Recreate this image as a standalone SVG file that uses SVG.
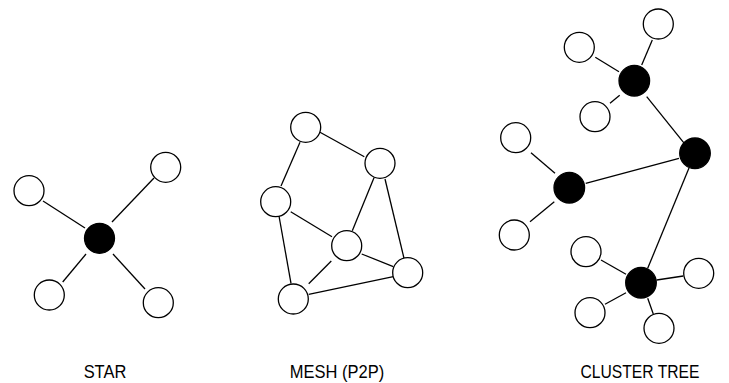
<svg xmlns="http://www.w3.org/2000/svg" width="729" height="383" viewBox="0 0 729 383">
  <style>
    .node circle { stroke: #000; stroke-width: 1.3; }
    .leaf circle { fill: #fff; }
    .hub circle { fill: #000; }
    .edges line { stroke: #000; stroke-width: 1.3; stroke-linecap: butt; }
    .label { font-family: "Liberation Sans", Arial, sans-serif; font-size: 16.5px; fill: #000; text-anchor: middle; }
  </style>
  <rect width="729" height="383" fill="#fff"/>

  <!-- Star topology -->
  <g class="edges" id="star-edges">
    <line x1="43" y1="201" x2="85" y2="228"/>
    <line x1="154" y1="178" x2="112" y2="222"/>
    <line x1="86" y1="254" x2="62.7" y2="282"/>
    <line x1="113" y1="254" x2="145" y2="289"/>
  </g>
  <g id="star-hub" class="node hub"><circle cx="99.5" cy="238.3" r="15"/></g>
  <g id="star-n1" class="node leaf"><circle cx="29" cy="190.7" r="15"/></g>
  <g id="star-n2" class="node leaf"><circle cx="165.7" cy="167.3" r="15"/></g>
  <g id="star-n3" class="node leaf"><circle cx="49.3" cy="295" r="15"/></g>
  <g id="star-n4" class="node leaf"><circle cx="158.3" cy="302.7" r="15"/></g>

  <!-- Mesh topology -->
  <g class="edges" id="mesh-edges">
    <line x1="320" y1="132.3" x2="364.3" y2="156.7"/>
    <line x1="300" y1="142.3" x2="281" y2="186"/>
    <line x1="290.7" y1="211.7" x2="332" y2="236.7"/>
    <line x1="279" y1="216" x2="291" y2="283.3"/>
    <line x1="374" y1="177.7" x2="352.3" y2="230.7"/>
    <line x1="385" y1="179" x2="404" y2="258.3"/>
    <line x1="361.7" y1="254" x2="393.3" y2="266.7"/>
    <line x1="331.3" y1="261" x2="308.7" y2="283.7"/>
    <line x1="308.7" y1="294.3" x2="393.3" y2="276.7"/>
  </g>
  <g id="mesh-a" class="node leaf"><circle cx="305.7" cy="127.3" r="15"/></g>
  <g id="mesh-b" class="node leaf"><circle cx="380" cy="163.3" r="15"/></g>
  <g id="mesh-c" class="node leaf"><circle cx="275.7" cy="201.7" r="15"/></g>
  <g id="mesh-d" class="node leaf"><circle cx="346.7" cy="245.7" r="15"/></g>
  <g id="mesh-e" class="node leaf"><circle cx="407.7" cy="272.7" r="15"/></g>
  <g id="mesh-f" class="node leaf"><circle cx="293.3" cy="299" r="15"/></g>

  <!-- Cluster tree topology -->
  <g class="edges" id="tree-edges">
    <line x1="641.7" y1="65" x2="652.3" y2="40"/>
    <line x1="619" y1="71.7" x2="595.3" y2="57.3"/>
    <line x1="619.7" y1="95.3" x2="610" y2="103.3"/>
    <line x1="646.7" y1="96.7" x2="684.3" y2="143.3"/>
    <line x1="679" y1="158.3" x2="585.7" y2="183.3"/>
    <line x1="531" y1="152.7" x2="555" y2="173.3"/>
    <line x1="554.3" y1="201.7" x2="530" y2="221.7"/>
    <line x1="689" y1="168" x2="647.7" y2="268.3"/>
    <line x1="601" y1="260" x2="626" y2="274.3"/>
    <line x1="656.7" y1="280" x2="683.3" y2="276"/>
    <line x1="626" y1="292.7" x2="605" y2="304.3"/>
    <line x1="647.7" y1="298.3" x2="653.3" y2="314"/>
  </g>
  <g id="tree-hub1" class="node hub"><circle cx="634.3" cy="80.7" r="15.3"/></g>
  <g id="tree-hub2" class="node hub"><circle cx="695" cy="153.3" r="15.3"/></g>
  <g id="tree-hub3" class="node hub"><circle cx="569.3" cy="187.7" r="15.3"/></g>
  <g id="tree-hub4" class="node hub"><circle cx="641" cy="282.7" r="15.3"/></g>
  <g id="tree-n1" class="node leaf"><circle cx="658.3" cy="24" r="15"/></g>
  <g id="tree-n2" class="node leaf"><circle cx="579.3" cy="47.3" r="15"/></g>
  <g id="tree-n3" class="node leaf"><circle cx="595" cy="116.7" r="15"/></g>
  <g id="tree-n4" class="node leaf"><circle cx="515.7" cy="137.7" r="15"/></g>
  <g id="tree-n5" class="node leaf"><circle cx="514.3" cy="235" r="15"/></g>
  <g id="tree-n6" class="node leaf"><circle cx="586" cy="251.7" r="15"/></g>
  <g id="tree-n7" class="node leaf"><circle cx="698.7" cy="273.3" r="15"/></g>
  <g id="tree-n8" class="node leaf"><circle cx="590" cy="312.7" r="15"/></g>
  <g id="tree-n9" class="node leaf"><circle cx="659" cy="328.3" r="15"/></g>

  <!-- Captions, slightly tall lettering -->
  <text class="label" transform="translate(105,378) scale(1,1.12)">STAR</text>
  <text class="label" transform="translate(337,378) scale(1,1.12)">MESH (P2P)</text>
  <text class="label" transform="translate(640,378) scale(0.95,1.12)">CLUSTER TREE</text>
</svg>
